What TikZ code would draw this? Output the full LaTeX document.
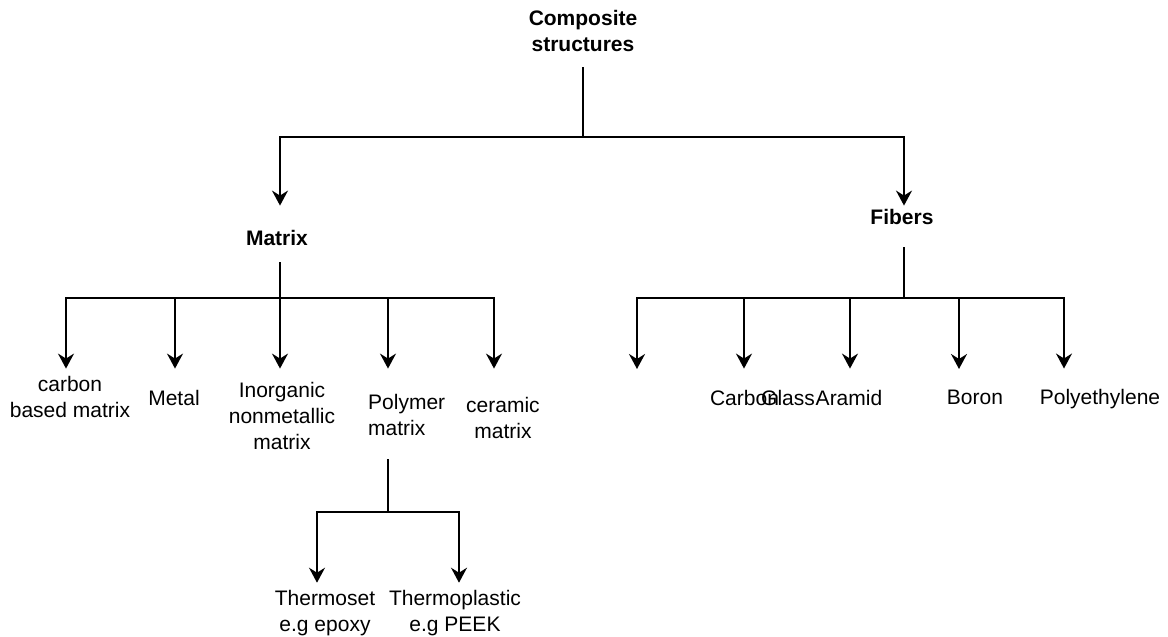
\documentclass[tikz,border=0pt]{standalone}
\usepackage{fontspec}
\setmainfont{Liberation Sans}
\usetikzlibrary{arrows.meta}

\tikzset{
  lbl/.style={font=\fontsize{21}{26}\selectfont, inner sep=0pt, align=center},
  hdr/.style={lbl, font=\bfseries\fontsize{21}{26}\selectfont},
  wire/.style={line width=2pt, draw=black},
  arr/.style={wire, -{Stealth[length=15pt, width=16pt, inset=5pt]}},
}

\begin{document}
\begin{tikzpicture}[x=1pt, y=-1pt]
\useasboundingbox[fill=white] (0,0) rectangle (1168,637);

% labels
\node[hdr] (comp)   at (583,31)    {Composite\\structures};
\node[hdr] (matrix) at (277,237.5) {Matrix};
\node[hdr] (fibers) at (902,217)   {Fibers};

\node[lbl] (carbon)  at (70,397)    {carbon\\based matrix};
\node[lbl] (metal)   at (174,397.5) {Metal};
\node[lbl] (inorg)   at (282,415.5) {Inorganic\\nonmetallic\\matrix};
\node[lbl, align=left, anchor=west] (polymer) at (368,414.5) {Polymer\\matrix};
\node[lbl] (ceramic) at (503,417.5) {ceramic\\matrix};

\node[lbl] (thermoset)     at (325,612.7) {Thermoset\\e.g epoxy};
\node[lbl] (thermoplastic) at (455,612.7) {Thermoplastic\\e.g PEEK};

\node[lbl] (fcarbon) at (744.5,397.5) {Carbon};
\node[lbl] (fglass)  at (788,397.5)   {Glass};
\node[lbl] (faramid) at (849,397.5)   {Aramid};
\node[lbl] (fboron)  at (975,397.5)   {Boron};
\node[lbl] (fpoly)   at (1100,399.5)  {Polyethylene};

% junctions of the branch lines
\coordinate (jTop) at (583,137);
\coordinate (jM)   at (280,298);
\coordinate (jF)   at (904,298);
\coordinate (jP)   at (388,512);
\coordinate (fEmpty) at (637,369);

% top level
\draw[wire, shorten <=15.5pt] (comp) -- (jTop);
\draw[arr, shorten >=24pt]  (jTop) -| ([xshift=3pt]matrix.north);
\draw[arr, shorten >=3.5pt] (jTop) -| ([xshift=2pt]fibers.north);

% matrix branch
\draw[wire, shorten <=17pt] ([xshift=3pt]matrix.south) -- (jM);
\draw[arr, shorten >=7.5pt] (jM) -| ([xshift=-4pt]carbon.north);
\draw[arr, shorten >=21pt]  (jM) -| ([xshift=1pt]metal.north);
\draw[arr, shorten >=13pt]  (jM) -| ([xshift=-2pt]inorg.north);
\draw[arr, shorten >=25pt]  (jM) -| ([xshift=20pt]polymer.north west);
\draw[arr, shorten >=28pt]  (jM) -| ([xshift=-9pt]ceramic.north);

% polymer branch
\draw[wire, shorten <=24pt] ([xshift=20pt]polymer.south west) -- (jP);
\draw[arr, shorten >=7pt] (jP) -| ([xshift=-8pt]thermoset.north);
\draw[arr, shorten >=7pt] (jP) -| ([xshift=4pt]thermoplastic.north);

% fibers branch
\draw[wire, shorten <=22.5pt] ([xshift=2pt]fibers.south) -- (jF);
\draw[arr] (jF) -| (fEmpty);
\draw[arr, shorten >=21pt] (jF) -| ([xshift=-0.5pt]fcarbon.north);
\draw[arr, shorten >=21pt] (jF) -| ([xshift=1pt]faramid.north);
\draw[arr, shorten >=21pt] (jF) -| ([xshift=-16pt]fboron.north);
\draw[arr, shorten >=21pt] (jF) -| ([xshift=-36pt]fpoly.north);
\end{tikzpicture}
\end{document}
